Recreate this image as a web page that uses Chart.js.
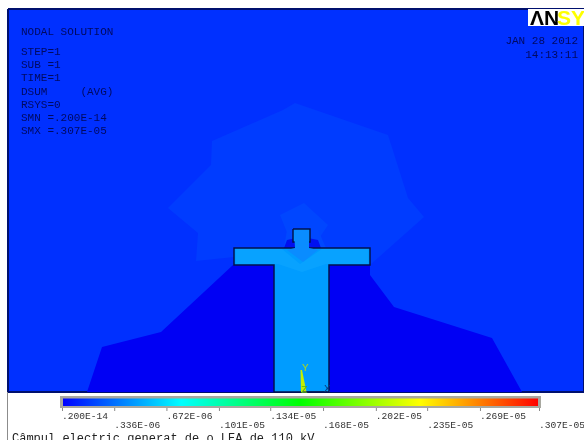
<!DOCTYPE html>
<html>
<head>
<meta charset="utf-8">
<style>
  html, body { margin: 0; padding: 0; background: #fff; overflow: hidden; }
  canvas { display: block; }
</style>
<script src="https://cdn.jsdelivr.net/npm/chart.js"></script>
</head>
<body>
<canvas id="chart" width="584" height="440"></canvas>
<script>
// contour colour bar
const barTicks = [0.000002e-9, 0.336e-6, 0.672e-6, 1.01e-6, 1.34e-6, 1.68e-6, 2.02e-6, 2.35e-6, 2.69e-6, 3.07e-6];
const barLabels = ['.200E-14', '.336E-06', '.672E-06', '.101E-05', '.134E-05', '.168E-05', '.202E-05', '.235E-05', '.269E-05', '.307E-05'];
const barColors = ['#0000ff', '#00ffff', '#00ff00', '#ffff00', '#ff0000'];

const infoLines = ['NODAL SOLUTION', 'STEP=1', 'SUB =1', 'TIME=1', 'DSUM     (AVG)', 'RSYS=0', 'SMN =.200E-14', 'SMX =.307E-05'];
const infoRows = [32, 52, 65, 78, 92, 105, 118, 131];

// field regions, in picture units
const plotArea = [[8, 9], [584, 9], [584, 392], [8, 392], [8, 9]];
const outerBlob = [[295, 103], [283, 110], [212, 141], [211, 165], [168, 208], [198, 233], [196, 261], [234, 257], [370, 265], [424, 217], [408, 198], [388, 135]];
const innerHalo = [[280, 215], [304, 203], [328, 225], [318, 240], [290, 240]];
const headHalo = [[284, 248], [287, 230], [318, 230], [326, 248]];
const lowField = [[87, 392], [102, 347], [161, 332], [233, 265], [275, 265], [275, 392]];
const lowFieldRight = [[328, 265], [370, 265], [370, 275], [394, 307], [492, 338], [522, 392], [328, 392]];
const neckHaloLeft = [[284, 248], [287, 240], [296, 238], [296, 248]];
const neckHaloRight = [[308, 248], [308, 238], [318, 240], [321, 248]];
const towerShape = [[293, 229], [310, 229], [310, 242], [308, 242], [308, 248], [370, 248], [370, 265], [329, 265], [329, 392], [274, 392], [274, 265], [234, 265], [234, 248], [296, 248], [296, 242], [293, 242], [293, 229]];
const armGlow = [[236, 249], [282, 249], [300, 264], [322, 249], [368, 249], [368, 264], [326, 264], [302, 272], [278, 264], [236, 264]];
const neckShade = [[294, 230], [309, 230], [309, 248], [318, 250], [303, 262], [287, 250], [295, 248]];
const triadWedge = [[300.5, 370], [302, 370], [306.5, 392], [301, 392]];
const triadAxis = [[303, 392], [327, 392]];

const xPx = { min: 0, max: 584 };
const valuePerPx = 3.07e-6 / 477;

function region(points, color, extra) {
  return Object.assign({
    data: points.map(p => ({ x: p[0], y: p[1] })),
    showLine: true,
    fill: 'shape',
    backgroundColor: color,
    borderColor: color,
    borderWidth: 0,
    pointRadius: 0,
    tension: 0
  }, extra);
}

const annotations = {
  id: 'annotations',
  afterDraw(chart) {
    const { ctx, scales } = chart;
    const x = scales.x, y = scales.y, v = scales.v;
    ctx.save();

    // frame and colour bar
    ctx.fillStyle = '#a8a8a0';
    ctx.fillRect(x.getPixelForValue(60), y.getPixelForValue(396), 481, 12);
    const left = v.getPixelForValue(barTicks[0]);
    const right = v.getPixelForValue(barTicks[barTicks.length - 1]);
    const grad = ctx.createLinearGradient(left, 0, right, 0);
    barColors.forEach((c, i) => grad.addColorStop(i / (barColors.length - 1), c));
    ctx.fillStyle = grad;
    ctx.fillRect(left + 1, y.getPixelForValue(398.5), right - left - 2, 7.5);

    ctx.fillStyle = '#8c8c8c';
    ctx.fillRect(x.getPixelForValue(7), y.getPixelForValue(392), 1, 48);

    ctx.textBaseline = 'alphabetic';
    ctx.font = '9.6px "Liberation Mono"';
    barLabels.forEach((label, i) => {
      const px = v.getPixelForValue(barTicks[i]);
      ctx.fillStyle = '#8c8c8c';
      ctx.fillRect(px, y.getPixelForValue(408), 1, 3);
      ctx.fillStyle = '#333';
      ctx.fillText(label, px, y.getPixelForValue(i % 2 ? 428 : 419));
    });

    // header text
    ctx.font = '11px "Liberation Mono"';
    ctx.fillStyle = '#000a60';
    infoLines.forEach((line, i) => ctx.fillText(line, x.getPixelForValue(21), y.getPixelForValue(infoRows[i] + 3)));
    ctx.textAlign = 'right';
    ctx.fillText('JAN 28 2012', x.getPixelForValue(578), y.getPixelForValue(44));
    ctx.fillText('14:13:11', x.getPixelForValue(578), y.getPixelForValue(58));
    ctx.textAlign = 'left';

    // logo
    ctx.fillStyle = '#fff';
    ctx.fillRect(x.getPixelForValue(528), y.getPixelForValue(9), 56, 17);
    ctx.font = 'bold 21px "Liberation Sans"';
    ctx.fillStyle = '#000';
    ctx.fillText('ΛN', x.getPixelForValue(530), y.getPixelForValue(25));
    ctx.fillStyle = '#ffff00';
    ctx.fillText('SYS', x.getPixelForValue(557), y.getPixelForValue(25));

    // triad letters
    ctx.font = '11px "Liberation Mono"';
    ctx.fillStyle = '#a8d820';
    ctx.fillText('Y', x.getPixelForValue(302), y.getPixelForValue(371));
    ctx.fillStyle = '#0a3c80';
    ctx.fillText('X', x.getPixelForValue(324), y.getPixelForValue(392));
    ctx.fillStyle = '#50b020';
    ctx.fillText('Z', x.getPixelForValue(301), y.getPixelForValue(393));

    // caption, cut off by the window
    ctx.font = '12px "Liberation Mono"';
    ctx.fillStyle = '#222';
    ctx.fillText('Câmpul electric generat de o LEA de 110 kV', x.getPixelForValue(12), y.getPixelForValue(442));
    ctx.restore();
  }
};

// chart.js paints the first dataset last, so the tower comes before the background
new Chart(document.getElementById('chart'), {
  type: 'scatter',
  data: {
    datasets: [
      region(triadAxis, '#03124e', { fill: false, borderWidth: 1 }),
      region(triadWedge, '#c4f000'),
      region(neckShade, '#0a8cff'),
      region(armGlow, '#08a2ff'),
      region(towerShape, '#009cff', { borderColor: '#03124e', borderWidth: 1.5 }),
      region(neckHaloRight, '#0010f0'),
      region(neckHaloLeft, '#0010f0'),
      region(lowFieldRight, '#0000f4'),
      region(lowField, '#0000f4'),
      region(headHalo, '#0048ff'),
      region(innerHalo, '#0046ff'),
      region(outerBlob, '#003cff'),
      region(plotArea, '#0030ff', { borderColor: '#00106e', borderWidth: 2 })
    ]
  },
  options: {
    responsive: false,
    animation: false,
    layout: { padding: 0 },
    plugins: { legend: { display: false }, tooltip: { enabled: false } },
    scales: {
      x: { type: 'linear', display: false, min: xPx.min, max: xPx.max },
      y: { type: 'linear', display: false, min: 0, max: 440, reverse: true },
      v: { type: 'linear', axis: 'x', display: false, min: -62 * valuePerPx, max: (584 - 62) * valuePerPx }
    }
  },
  plugins: [annotations]
});
</script>
</body>
</html>
